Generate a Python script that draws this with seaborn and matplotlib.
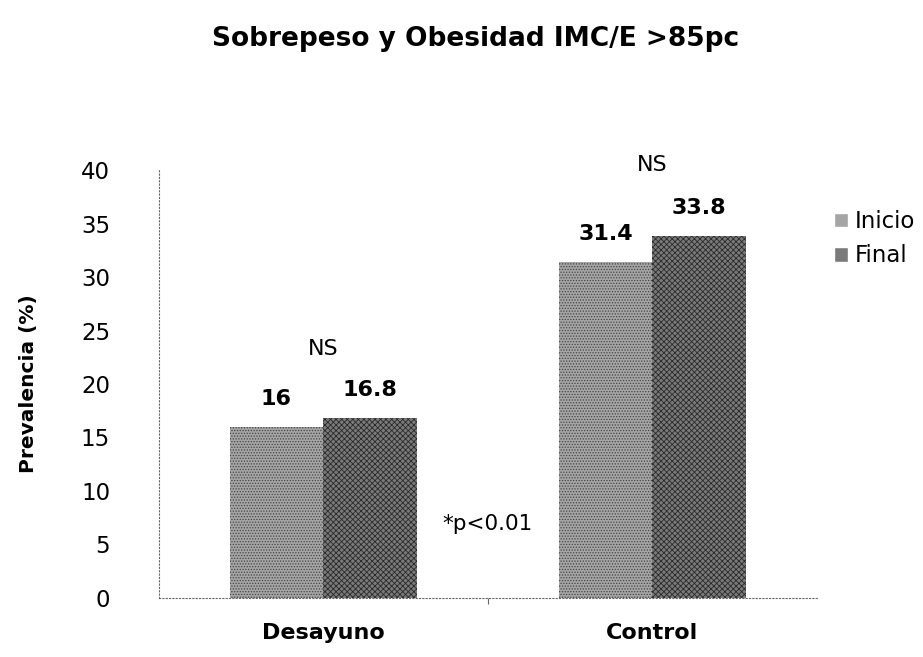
import matplotlib
matplotlib.use("Agg")
import matplotlib.pyplot as plt
import seaborn as sns
import pandas as pd

groups = ["Desayuno", "Control"]
series = ["Inicio", "Final"]
inicio = [16, 31.4]
final = [16.8, 33.8]
yticks = [0, 5, 10, 15, 20, 25, 30, 35, 40]

df = pd.DataFrame({
    "grupo": groups * 2,
    "serie": [series[0]] * 2 + [series[1]] * 2,
    "valor": inicio + final,
})

sns.set_theme(style="white")
plt.rcParams["font.family"] = ["DejaVu Sans"]
plt.rcParams["hatch.linewidth"] = 0.6
plt.rcParams["text.color"] = "black"
plt.rcParams["axes.labelcolor"] = "black"
plt.rcParams["xtick.color"] = "black"
plt.rcParams["ytick.color"] = "black"

fig = plt.figure(figsize=(9.23, 6.57), dpi=100)
ax = fig.add_axes([0.172, 0.09, 0.713, 0.651])

sns.barplot(data=df, x="grupo", y="valor", hue="serie", order=groups,
            hue_order=series, palette=["#a5a5a5", "#7a7a7a"], width=0.57,
            saturation=1, ax=ax, legend=True)

hatches = {"Inicio": "......", "Final": "xxxxxx"}
hcols = {"Inicio": "#444444", "Final": "#2a2a2a"}
for cont, s in zip(ax.containers, series):
    for bar in cont:
        bar.set_hatch(hatches[s])
        bar.set_edgecolor(hcols[s])
        bar.set_linewidth(0)
    ax.bar_label(cont, labels=[f"{v:g}" for v in cont.datavalues], padding=13,
                 fontsize=16, fontweight="bold", color="black")

ax.set_ylim(0, 40)
ax.set_xlim(-0.5, 1.5)
ax.set_yticks(yticks)
ax.set_yticklabels([str(t) for t in yticks], fontsize=16.5)
ax.tick_params(axis="y", pad=35, length=0)
ax.set_xticks([0, 1])
ax.set_xticklabels(groups, fontsize=16, fontweight="bold")
ax.tick_params(axis="x", pad=18, length=0)
ax.set_xticks([0.5], minor=True)
ax.tick_params(axis="x", which="minor", length=4, width=0.8, color="#666666",
               direction="out", bottom=True)
ax.set_xlabel("")
ax.set_ylabel("Prevalencia (%)", fontsize=14.5, fontweight="bold", labelpad=31)

for side in ["top", "right"]:
    ax.spines[side].set_visible(False)
for side in ["left", "bottom"]:
    ax.spines[side].set_linestyle((0, (1, 2)))
    ax.spines[side].set_color("#666666")
    ax.spines[side].set_linewidth(0.8)

ax.text(0, 23.3, "NS", ha="center", va="center", fontsize=16)
ax.text(1, 40.5, "NS", ha="center", va="center", fontsize=16)
ax.text(0.5, 6.9, "*p<0.01", ha="center", va="center", fontsize=15.5)

leg = ax.legend(loc="upper left", bbox_to_anchor=(0.995, 0.955), frameon=False,
                fontsize=16.5, handlelength=0.6, handleheight=0.6,
                handletextpad=0.3, labelspacing=0.5)

fig.suptitle("Sobrepeso y Obesidad IMC/E >85pc", x=0.515, y=0.96,
             fontsize=19, fontweight="bold")

fig.savefig("out.png", dpi=100)
